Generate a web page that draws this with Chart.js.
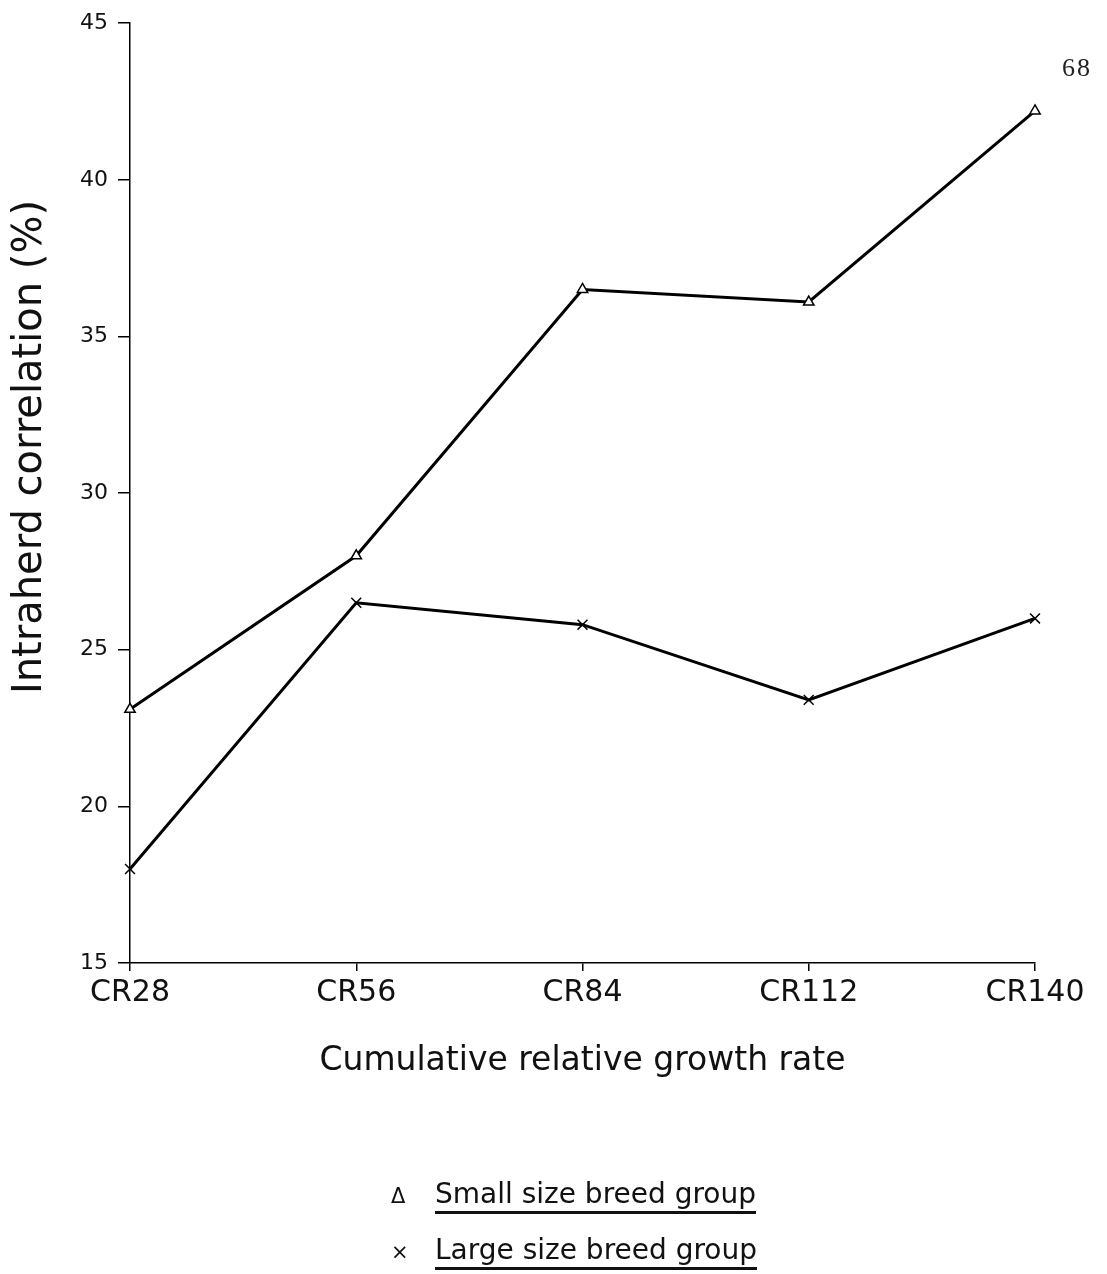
<!DOCTYPE html>
<html>
<head>
    <title>Intraherd correlation</title>
    <script src="https://cdn.jsdelivr.net/npm/chart.js"></script>
    <style>
        body {
            margin: 0;
            background-color: #ffffff;
            font-family: "DejaVu Sans", sans-serif;
        }
        .page {
            position: relative;
            width: 1107px;
            height: 1274px;
        }
        #growthChart {
            position: absolute;
            left: 0;
            top: 0;
        }
        .page-number {
            position: absolute;
            left: 1062px;
            top: 53px;
            font-family: "Liberation Serif", serif;
            font-size: 26px;
            letter-spacing: 2px;
            color: #222;
        }
        .legend {
            position: absolute;
            left: 388px;
            top: 1177px;
            font-size: 28px;
            color: #111;
        }
        .legend-row {
            height: 56px;
            white-space: nowrap;
        }
        .legend-row .mark {
            display: inline-block;
            width: 44px;
            font-size: 21px;
            text-align: left;
            padding-left: 3px;
        }
        .legend-row .label {
            text-decoration: underline;
            text-decoration-thickness: 3px;
            text-underline-offset: 8px;
        }
    </style>
</head>
<body>
    <div class="page">
        <canvas id="growthChart" width="1107" height="1274"></canvas>
        <div class="page-number">68</div>
        <div class="legend">
            <div class="legend-row"><span class="mark">&#916;</span><span class="label">Small size breed group</span></div>
            <div class="legend-row"><span class="mark">&#215;</span><span class="label">Large size breed group</span></div>
        </div>
    </div>

    <script>
        const categories = ['CR28', 'CR56', 'CR84', 'CR112', 'CR140'];
        const smallBreed = [23.1, 28.0, 36.5, 36.1, 42.2];
        const largeBreed = [18.0, 26.5, 25.8, 23.4, 26.0];
        const yTicks = [15, 20, 25, 30, 35, 40, 45];
        const yTitle = 'Intraherd correlation (%)';

        const ctx = document.getElementById('growthChart').getContext('2d');

        // y title sits a bit above the middle of the axis in the original
        const yTitlePlugin = {
            id: 'yTitle',
            afterDraw(chart) {
                const c = chart.ctx;
                c.save();
                c.translate(31, 447);
                c.rotate(-Math.PI / 2);
                c.font = '40px "DejaVu Sans"';
                c.fillStyle = '#111';
                c.textAlign = 'center';
                c.textBaseline = 'middle';
                c.fillText(yTitle, 0, 0);
                c.restore();
            }
        };

        const growthChart = new Chart(ctx, {
            type: 'line',
            data: {
                labels: categories,
                datasets: [
                    {
                        label: 'Small size breed group',
                        data: smallBreed,
                        borderColor: '#000',
                        backgroundColor: '#fff',
                        borderWidth: 3,
                        pointStyle: 'triangle',
                        pointRadius: 6,
                        pointBorderWidth: 1.5,
                        tension: 0
                    },
                    {
                        label: 'Large size breed group',
                        data: largeBreed,
                        borderColor: '#000',
                        backgroundColor: '#000',
                        borderWidth: 3,
                        pointStyle: 'crossRot',
                        pointRadius: 7,
                        pointBorderWidth: 1.5,
                        tension: 0
                    }
                ]
            },
            options: {
                responsive: false,
                animation: false,
                layout: {
                    padding: { top: 18, right: 72, bottom: 189, left: 0 }
                },
                plugins: {
                    legend: { display: false },
                    tooltip: { enabled: false }
                },
                scales: {
                    x: {
                        offset: false,
                        grid: {
                            drawOnChartArea: false,
                            drawTicks: true,
                            tickLength: 8,
                            color: '#000',
                            lineWidth: 1.5
                        },
                        border: { color: '#000', width: 1.5 },
                        ticks: {
                            color: '#111',
                            padding: 4,
                            maxRotation: 0,
                            font: { family: 'DejaVu Sans', size: 30 }
                        },
                        title: {
                            display: true,
                            text: 'Cumulative relative growth rate',
                            color: '#111',
                            padding: { top: 10 },
                            font: { family: 'DejaVu Sans', size: 33 }
                        },
                        afterFit: function (scale) {
                            scale.height = 122;
                        }
                    },
                    y: {
                        min: 15,
                        max: 45,
                        afterBuildTicks: function (scale) {
                            scale.ticks = yTicks.map(v => ({ value: v }));
                        },
                        grid: {
                            drawOnChartArea: false,
                            drawTicks: true,
                            tickLength: 12,
                            color: '#000',
                            lineWidth: 1.5
                        },
                        border: { color: '#000', width: 1.5 },
                        ticks: {
                            color: '#111',
                            padding: 10,
                            font: { family: 'DejaVu Sans', size: 22 }
                        },
                        afterFit: function (scale) {
                            scale.width = 130;
                        }
                    }
                }
            },
            plugins: [yTitlePlugin]
        });
    </script>
</body>
</html>
